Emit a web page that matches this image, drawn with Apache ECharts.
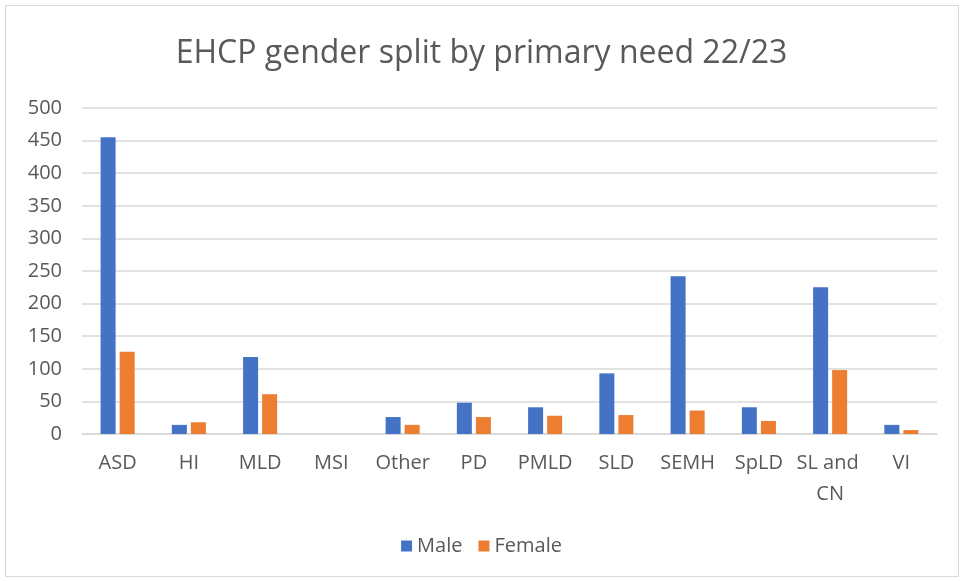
<!DOCTYPE html>
<html><head><meta charset="utf-8">
<script src="https://cdn.jsdelivr.net/npm/echarts@6/dist/echarts.min.js"></script>
<style>html,body{margin:0;padding:0;background:#fff}
#c{position:absolute;left:0;top:0;width:963px;height:581px}
#b{position:absolute;left:5px;top:5px;width:954px;height:572px;border:1px solid #d9d9d9;box-sizing:border-box;pointer-events:none}</style>
</head><body><div id="c"></div><div id="b"></div>
<script>
const categories = ["ASD","HI","MLD","MSI","Other","PD","PMLD","SLD","SEMH","SpLD","SL and CN","VI"];
const male = [455,14,118,0,26,48,41,93,242,41,225,14];
const female = [126,18,61,0,14,26,28,29,36,20,98,6];
const yTicks = [0,50,100,150,200,250,300,350,400,450,500];
const font = "Open Sans";
const chart = echarts.init(document.getElementById('c'));
chart.setOption({
  animation:false,
  title:{text:"EHCP gender split by primary need 22/23",left:'center',top:33,
    textStyle:{fontFamily:font,fontSize:32,fontWeight:'normal',color:'#595959'}},
  legend:{bottom:20,itemWidth:11,itemHeight:11,itemGap:16,icon:'rect',
    textStyle:{fontFamily:font,fontSize:20,color:'#595959'}},
  grid:{left:82,right:26,top:108,bottom:147},
  xAxis:{type:'category',data:categories,
    axisLine:{lineStyle:{color:'#d9d9d9',width:1.5}},axisTick:{show:false},
    axisLabel:{interval:0,fontFamily:font,fontSize:20,color:'#595959',margin:14,width:70,overflow:'break',lineHeight:31}},
  yAxis:{type:'value',min:yTicks[0],max:yTicks[yTicks.length-1],interval:50,
    axisLine:{show:false},axisTick:{show:false},
    splitLine:{lineStyle:{color:'#d9d9d9',width:1.5}},
    axisLabel:{fontFamily:font,fontSize:20,color:'#595959',margin:20}},
  series:[
    {name:'Male',type:'bar',data:male,barWidth:15,barGap:'27%',itemStyle:{color:'#4472c4'}},
    {name:'Female',type:'bar',data:female,barWidth:15,itemStyle:{color:'#ed7d31'}}
  ]
});
</script></body></html>
